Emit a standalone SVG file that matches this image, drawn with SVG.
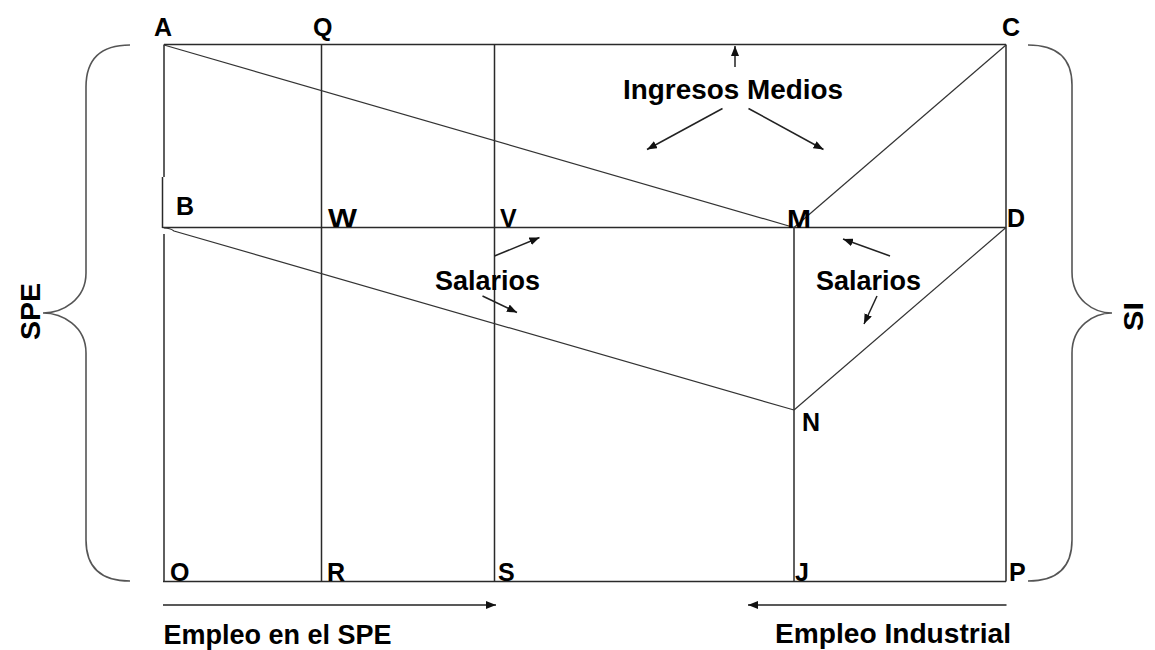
<svg xmlns="http://www.w3.org/2000/svg" width="1155" height="650" viewBox="0 0 1155 650">
<style>
.ln{stroke:#2a2a2a;stroke-width:1.5;fill:none}
.dg{stroke:#333;stroke-width:1.2;fill:none}
.br{stroke:#555;stroke-width:1.6;fill:none}
.ar{stroke:#222;stroke-width:1.5;fill:none;marker-end:url(#ah)}
.lb{font-family:"Liberation Sans",Arial,sans-serif;font-weight:bold;font-size:25px;fill:#000}
.tx{font-family:"Liberation Sans",Arial,sans-serif;font-weight:bold;font-size:27px;fill:#000}
</style>
<defs>
<marker id="ah" viewBox="0 0 10 8" refX="10" refY="4" markerWidth="10" markerHeight="8" markerUnits="userSpaceOnUse" orient="auto">
<path d="M0,0 L10,4 L0,8 z" fill="#111"/>
</marker>
</defs>
<rect width="1155" height="650" fill="#fff"/>
<g id="frame">
<line class="ln" x1="164" y1="44.5" x2="1006" y2="44.5"/>
<line class="ln" x1="163" y1="581.5" x2="1006" y2="581.5"/>
<line class="ln" x1="1006" y1="44.5" x2="1006" y2="581.5"/>
<line class="ln" x1="164" y1="44.5" x2="164" y2="177"/>
<line class="ln" x1="162.5" y1="177" x2="162.5" y2="228"/>
<line class="ln" x1="164" y1="234" x2="164" y2="581.5"/>
<line class="ln" x1="162.5" y1="227.5" x2="1006" y2="227.5"/>
<line class="ln" x1="321.5" y1="44.5" x2="321.5" y2="581.5"/>
<line class="ln" x1="494.5" y1="44.5" x2="494.5" y2="581.5"/>
<line class="ln" x1="794" y1="227.5" x2="794" y2="581.5"/>
</g>
<g id="diagonals">
<line class="dg" x1="164" y1="45" x2="794" y2="227.5"/>
<line class="dg" x1="1006" y1="45" x2="794" y2="227.5"/>
<path class="dg" d="M164,228 Q170,228 174,231 L794,410"/>
<line class="dg" x1="1006" y1="227.5" x2="794" y2="410"/>
</g>
<g id="braces">
<path class="br" d="M130,45 Q86,45 86,87 L86,273 C86,300 62,313 43,313 C62,313 86,326 86,353 L86,540 Q86,581 130,581"/>
<path class="br" d="M1028,45 Q1072,45 1072,85 L1072,272 C1072,300 1094,313 1112,313 C1094,313 1072,326 1072,353 L1072,540 Q1072,581 1028,581"/>
</g>
<g id="connectors">
<line class="ar" x1="735" y1="67" x2="735" y2="46"/>
<line class="ar" x1="722.5" y1="108.5" x2="647" y2="149.5"/>
<line class="ar" x1="748.5" y1="108.5" x2="823.5" y2="149.5"/>
<line class="ar" x1="494.5" y1="256" x2="539.5" y2="237.5"/>
<line class="ar" x1="482.5" y1="296" x2="517" y2="312.5"/>
<line class="ar" x1="890" y1="256" x2="843" y2="239"/>
<line class="ar" x1="877" y1="296" x2="864" y2="324"/>
<line class="ar" x1="163" y1="605" x2="496" y2="605"/>
<line class="ar" x1="1006.5" y1="605" x2="748" y2="605"/>
</g>
<g id="labels">
<text class="lb" x="154" y="36">A</text>
<text class="lb" x="313" y="36">Q</text>
<text class="lb" x="1002" y="36">C</text>
<text class="lb" x="176" y="215">B</text>
<text class="lb" x="328" y="227" textLength="29" lengthAdjust="spacingAndGlyphs">W</text>
<text class="lb" x="500" y="227">V</text>
<text class="lb" x="787" y="227.5" textLength="24" lengthAdjust="spacingAndGlyphs">M</text>
<text class="lb" x="1007" y="227">D</text>
<text class="lb" x="802" y="430.5">N</text>
<text class="lb" x="170" y="580.5">O</text>
<text class="lb" x="327" y="580.5">R</text>
<text class="lb" x="498" y="580.5">S</text>
<text class="lb" x="795" y="580.5">J</text>
<text class="lb" x="1009" y="580.5">P</text>
</g>
<g id="texts">
<text class="tx" x="623" y="98.5" font-size="28" textLength="220" lengthAdjust="spacingAndGlyphs">Ingresos Medios</text>
<text class="tx" x="435" y="289.5" textLength="105" lengthAdjust="spacingAndGlyphs">Salarios</text>
<text class="tx" x="816" y="289.5" textLength="105" lengthAdjust="spacingAndGlyphs">Salarios</text>
<text class="tx" x="163.5" y="643.5" textLength="228" lengthAdjust="spacingAndGlyphs">Empleo en el SPE</text>
<text class="tx" x="775" y="643" font-size="28" textLength="236" lengthAdjust="spacingAndGlyphs">Empleo Industrial</text>
<text class="tx" transform="translate(40,311.5) rotate(-90)" text-anchor="middle" font-size="33" textLength="57" lengthAdjust="spacingAndGlyphs">SPE</text>
<text class="tx" transform="translate(1143,316.5) rotate(-90)" text-anchor="middle" font-size="26" textLength="29" lengthAdjust="spacingAndGlyphs">SI</text>
</g>
</svg>
